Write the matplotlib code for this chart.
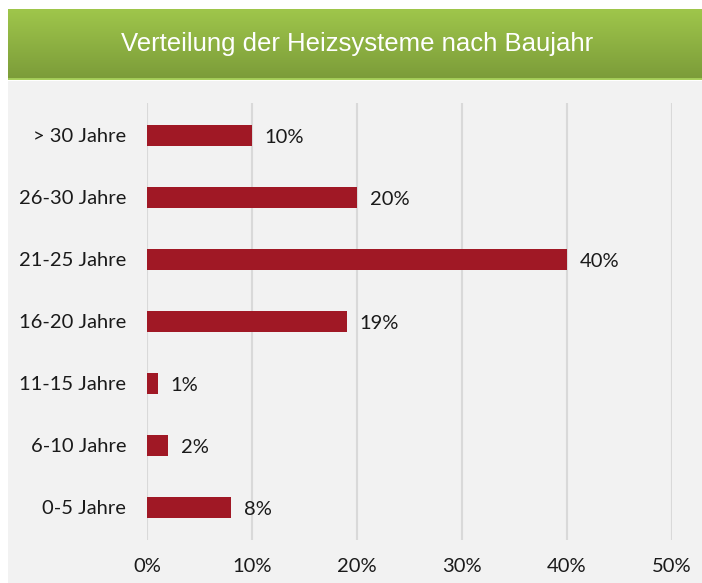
import numpy as np
import matplotlib
matplotlib.use('Agg')
import matplotlib.pyplot as plt
from matplotlib.colors import LinearSegmentedColormap

categories = ['0-5 Jahre', '6-10 Jahre', '11-15 Jahre', '16-20 Jahre',
              '21-25 Jahre', '26-30 Jahre', '> 30 Jahre']
values = [8, 2, 1, 19, 40, 20, 10]
xticks = [0, 10, 20, 30, 40, 50]
title = 'Verteilung der Heizsysteme nach Baujahr'

W, H = 702, 583
fig = plt.figure(figsize=(W / 100, H / 100), dpi=100)
fig.patch.set_facecolor('white')

# Gray panel behind the chart
bg = fig.add_axes([8 / W, 0, 1 - 8 / W, (H - 81) / H])
bg.set_facecolor('#f2f2f2')
bg.set_axis_off()
bg.add_patch(plt.Rectangle((0, 0), 1, 1, transform=bg.transAxes, color='#f2f2f2'))

# Green header with a vertical gradient
hdr = fig.add_axes([8 / W, (H - 80) / H, 1 - 8 / W, 71 / H])
green = LinearSegmentedColormap.from_list('green', ['#7b9b39', '#9fc64b'])
hdr.imshow(np.linspace(0, 1, 100).reshape(-1, 1)[::-1], cmap=green, aspect='auto',
           extent=[0, 1, 0, 1])
hdr.axhline(0.01, color='#a8d05c', lw=2)
hdr.set_xlim(0, 1)
hdr.set_ylim(0, 1)
hdr.set_axis_off()
hdr.text(0.503, 0.50, title, color='white', fontsize=18.5, ha='center', va='center',
         family='Liberation Sans')

# Bar chart
ax = fig.add_axes([147 / W, (H - 540) / H, (672 - 147) / W, (540 - 103) / H])
ax.set_facecolor('none')
y = np.arange(len(categories))
ax.barh(y, values, height=0.34, color='#a01825', zorder=3)
for yi, v in zip(y, values):
    ax.text(v + 1.2, yi - 0.03, f'{v}%', va='center', ha='left', fontsize=14.5,
            color='#1a1a1a', family='Lato')

ax.set_xlim(0, 50)
ax.set_ylim(-0.53, 6.52)
ax.set_xticks(xticks)
ax.set_xticklabels([f'{t}%' for t in xticks])
ax.set_yticks(y)
ax.set_yticklabels(categories)
ax.grid(axis='x', color='#d9d9d9', lw=1.5, zorder=0)
ax.tick_params(length=0, labelsize=14.5, labelcolor='#1a1a1a')
ax.tick_params(axis='x', pad=13)
ax.tick_params(axis='y', pad=15)
for lbl in ax.get_xticklabels() + ax.get_yticklabels():
    lbl.set_family('Lato')
for s in ax.spines.values():
    s.set_visible(False)

fig.savefig('out.png', dpi=100, facecolor='white')
